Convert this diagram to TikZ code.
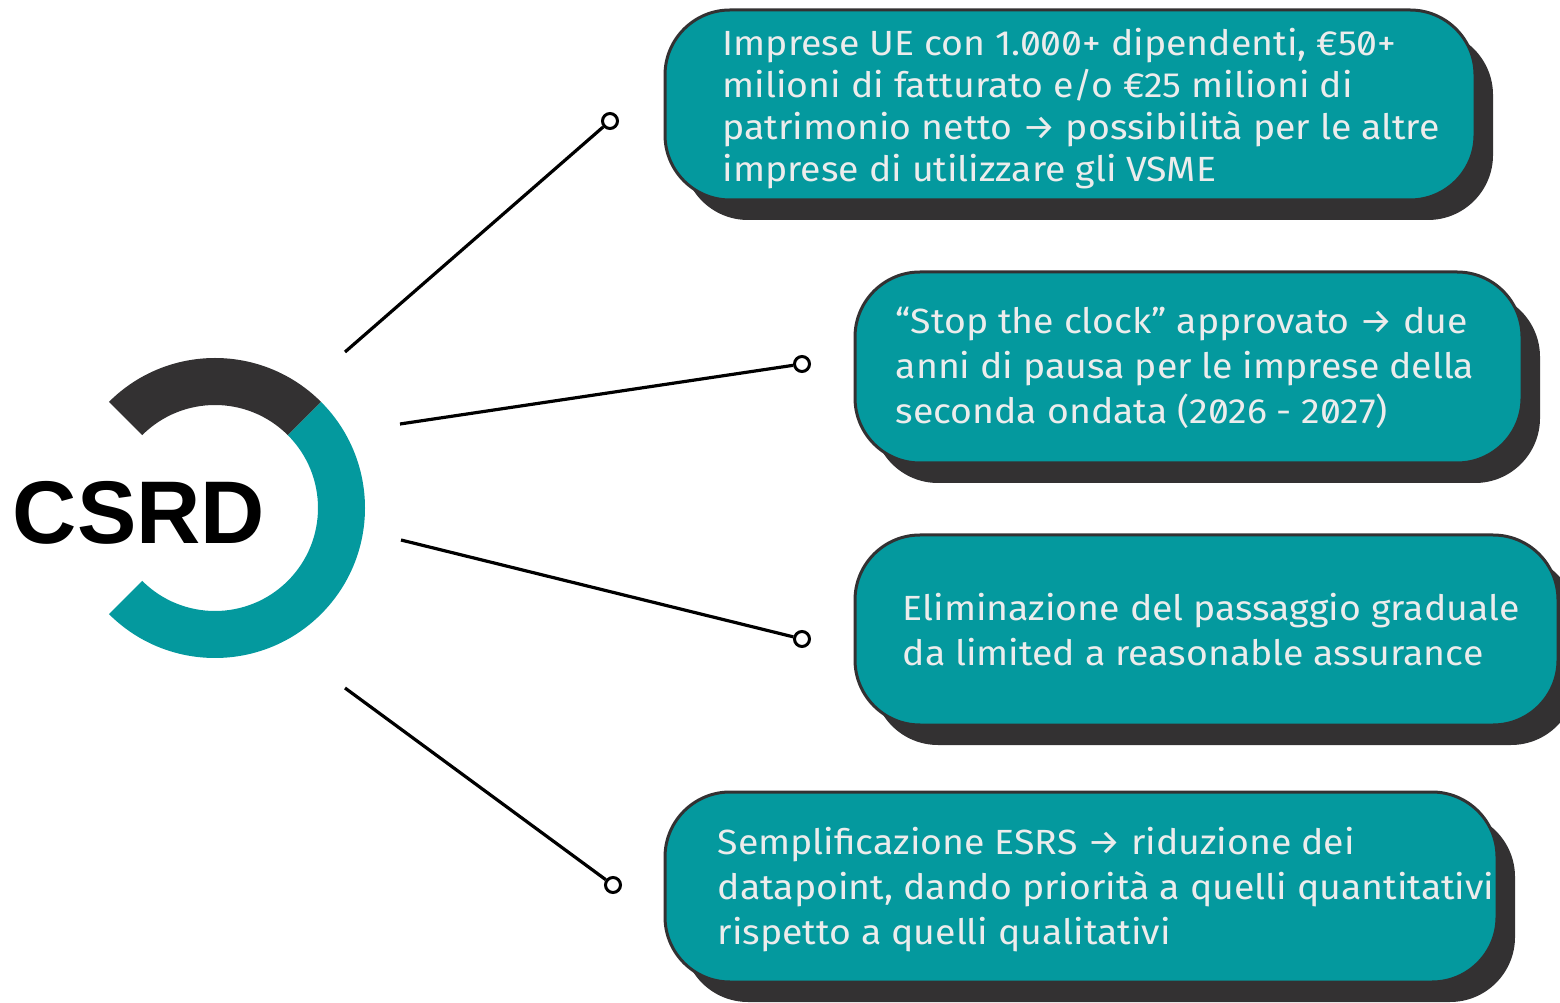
\documentclass[tikz,border=0pt]{standalone}
\usepackage{fontspec}
\setmainfont{Fira Sans}[Numbers=SlashedZero,FakeStretch=1.07]
\newfontfamily\csrdfont{Liberation Sans}
\usetikzlibrary{shadows}

\definecolor{boxteal}{HTML}{04999E}
\definecolor{boxdark}{HTML}{333132}
\definecolor{boxtext}{HTML}{ECECEC}

\begin{document}
\begin{tikzpicture}[x=1pt,y=1pt]
                \useasboundingbox (0,0) rectangle (1560,1002);
                % ring round the title
                \fill[boxdark] (215,494) ++(45:150) arc (45:135:150) -- ++(135:-47) arc (135:45:103) -- cycle;
                \fill[boxteal] (215,494) ++(-135:150) arc (-135:45:150) -- ++(45:-47) arc (45:-135:103) -- cycle;
                \node (csrd) at (139,489) {\csrdfont\bfseries\fontsize{89}{89}\selectfont CSRD};
                \begin{scope}[every node/.style={rectangle,rounded corners=65pt,draw=boxdark,line width=3pt,fill=boxteal,inner sep=0pt,
                    drop shadow={shadow xshift=18pt,shadow yshift=-20pt,fill=boxdark,opacity=1}}]
                    \node (B1) [minimum width=810pt,minimum height=190pt] at (1070,897) {};
                    \node (B2) [minimum width=667pt,minimum height=191pt] at (1188.5,634.5) {};
                    \node (B3) [minimum width=703pt,minimum height=190pt] at (1206.5,372) {};
                    \node (B4) [minimum width=832pt,minimum height=190pt] at (1081,115) {};
                \end{scope}
                \begin{scope}[every node/.style={anchor=west,align=left,inner sep=0pt,text=boxtext,font=\fontsize{35}{45}\selectfont}]
                    \node (T1) [font=\fontsize{35}{42}\selectfont] at ([xshift=59pt,yshift=-4pt]B1.west) {Imprese UE con 1.000+ dipendenti, €50+\\milioni di fatturato e/o €25 milioni di\\patrimonio netto → possibilità per le altre\\imprese di utilizzare gli VSME};
                    \node (T2) at ([xshift=42pt]B2.west) {“Stop the clock” approvato → due\\anni di pausa per le imprese della\\seconda ondata (2026 - 2027)};
                    \node (T3) at ([xshift=49pt]B3.west) {Eliminazione del passaggio graduale\\da limited a reasonable assurance};
                    \node (T4) at ([xshift=54pt,yshift=-3pt]B4.west) {Semplificazione ESRS → riduzione dei\\datapoint, dando priorità a quelli quantitativi\\rispetto a quelli qualitativi};
                \end{scope}
                \begin{scope}[every node/.style={circle,draw=black,line width=3pt,fill=white,inner sep=0pt,minimum size=15pt}]
                    \node (D1) at (610,881) {};
                    \node (D2) at (802,638) {};
                    \node (D3) at (802,363) {};
                    \node (D4) at (613,117) {};
                \end{scope}
                \coordinate (S1) at (345,650);
                \coordinate (S2) at (400,578);
                \coordinate (S3) at (401,462);
                \coordinate (S4) at (345,314);
                \begin{scope}[line width=3.2pt]
                    \draw (S1) -- (D1);
                    \draw (S2) -- (D2);
                    \draw (S3) -- (D3);
                    \draw (S4) -- (D4);
                \end{scope}
            \end{tikzpicture}
\end{document}
